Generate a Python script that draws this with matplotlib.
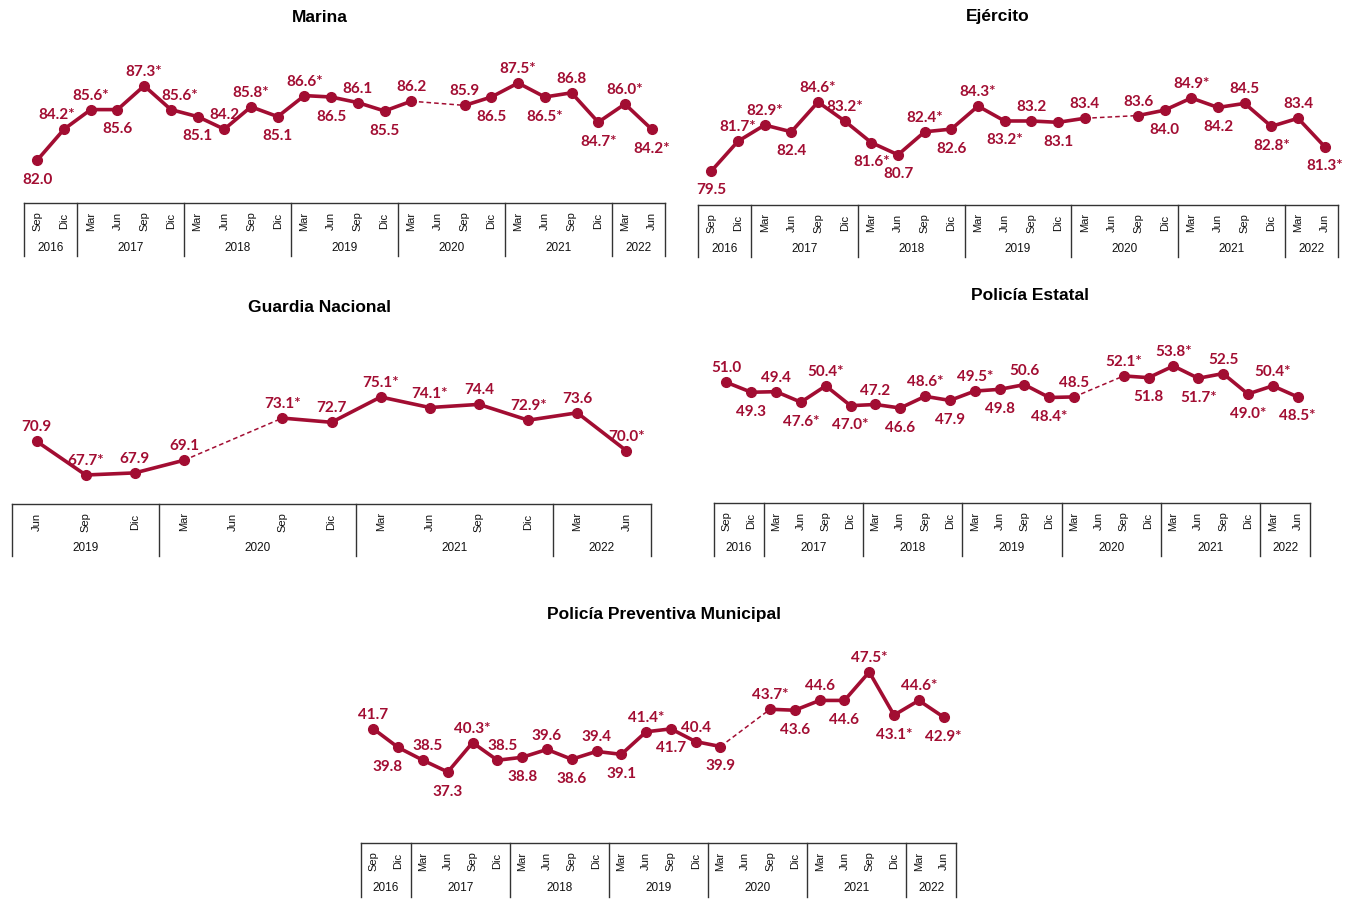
import numpy as np
import matplotlib
matplotlib.use("Agg")
import matplotlib.pyplot as plt

nan = np.nan

# ---------------- data ----------------
months_full = ["Sep", "Dic"] + ["Mar", "Jun", "Sep", "Dic"] * 5 + ["Mar", "Jun"]
years_full = ["2016", "2017", "2018", "2019", "2020", "2021", "2022"]
year_sizes_full = [2, 4, 4, 4, 4, 4, 2]

months_gn = ["Jun", "Sep", "Dic"] + ["Mar", "Jun", "Sep", "Dic"] * 2 + ["Mar", "Jun"]
years_gn = ["2019", "2020", "2021", "2022"]
year_sizes_gn = [3, 4, 4, 2]

marina = [82.0, 84.2, 85.6, 85.6, 87.3, 85.6, 85.1, 84.2, 85.8, 85.1, 86.6, 86.5,
          86.1, 85.5, 86.2, nan, 85.9, 86.5, 87.5, 86.5, 86.8, 84.7, 86.0, 84.2]
marina_sig = [0, 1, 1, 0, 1, 1, 0, 0, 1, 0, 1, 0, 0, 0, 0, 0, 0, 0, 1, 1, 0, 1, 1, 1]

ejercito = [79.5, 81.7, 82.9, 82.4, 84.6, 83.2, 81.6, 80.7, 82.4, 82.6, 84.3, 83.2,
            83.2, 83.1, 83.4, nan, 83.6, 84.0, 84.9, 84.2, 84.5, 82.8, 83.4, 81.3]
ejercito_sig = [0, 1, 1, 0, 1, 1, 1, 0, 1, 0, 1, 1, 0, 0, 0, 0, 0, 0, 1, 0, 0, 1, 0, 1]

guardia = [70.9, 67.7, 67.9, 69.1, nan, 73.1, 72.7, 75.1, 74.1, 74.4, 72.9, 73.6, 70.0]
guardia_sig = [0, 1, 0, 0, 0, 1, 0, 1, 1, 0, 1, 0, 1]

estatal = [51.0, 49.3, 49.4, 47.6, 50.4, 47.0, 47.2, 46.6, 48.6, 47.9, 49.5, 49.8,
           50.6, 48.4, 48.5, nan, 52.1, 51.8, 53.8, 51.7, 52.5, 49.0, 50.4, 48.5]
estatal_sig = [0, 0, 0, 1, 1, 1, 0, 0, 1, 0, 1, 0, 0, 1, 0, 0, 1, 0, 1, 1, 0, 1, 1, 1]

municipal = [41.7, 39.8, 38.5, 37.3, 40.3, 38.5, 38.8, 39.6, 38.6, 39.4, 39.1, 41.4,
             41.7, 40.4, 39.9, nan, 43.7, 43.6, 44.6, 44.6, 47.5, 43.1, 44.6, 42.9]
municipal_sig = [0, 0, 0, 0, 1, 0, 0, 0, 0, 0, 0, 1, 0, 0, 0, 0, 1, 0, 0, 0, 1, 1, 1, 1]

# label placement (a = above, b = below, - = no point)
marina_pos = "baabaabaabababa-abababab"
ejercito_pos = "baabaabbabababa-abababab"
guardia_pos = "aaaa-aaaaaaaa"
estatal_pos = "abababababababa-abababab"
municipal_pos = "ababaababababab-abababab"

# small horizontal nudges of individual labels (points)
marina_dx = {1: -5, 5: 6}
ejercito_dx = {}
guardia_dx = {}
estatal_dx = {}
municipal_dx = {1: -8, 2: 3, 5: 4}

# ---------------- style ----------------
W, H = 1350, 905
RED = "#A20D32"
LABEL_FONT = ["Lato", "DejaVu Sans"]
AX_FONT = ["Liberation Sans", "DejaVu Sans"]

fig = plt.figure(figsize=(W / 100, H / 100), dpi=100)


def add_rect(x0, y0, x1, y1):
    return fig.add_axes([x0 / W, 1 - y1 / H, (x1 - x0) / W, (y1 - y0) / H])


def panel(title, title_xy, values, sig, pos, dx, months, years, year_sizes,
          x0, x1, data_top, tab_top, tab_bot, ref1, ref2):
    n = len(months)
    vals = np.array(values, dtype=float)
    ax = add_rect(x0, data_top, x1, tab_top)
    (v1, p1), (v2, p2) = ref1, ref2
    s = (p1 - p2) / (v2 - v1)
    ymin = v1 - (tab_top - p1) / s
    ymax = v1 + (p1 - data_top) / s
    ax.set_xlim(-0.5, n - 0.5)
    ax.set_ylim(ymin, ymax)
    ax.axis("off")
    x = np.arange(n)
    ax.plot(x, vals, color=RED, lw=2.6, marker="o", ms=7, solid_joinstyle="round",
            zorder=3)
    for i in range(1, n - 1):
        if np.isnan(vals[i]) and not np.isnan(vals[i - 1]):
            j = i + 1
            while j < n and np.isnan(vals[j]):
                j += 1
            if j < n:
                ax.plot([i - 1, j], [vals[i - 1], vals[j]], color=RED, lw=1.1,
                        ls=(0, (3, 2)), zorder=2)
    for i in range(n):
        if np.isnan(vals[i]):
            continue
        txt = f"{vals[i]:.1f}" + ("*" if sig[i] else "")
        off = dx.get(i, 0)
        if pos[i] == "a":
            ax.annotate(txt, (i, vals[i]), xytext=(off, 5), textcoords="offset points",
                        ha="center", va="bottom", color=RED, fontsize=11,
                        fontweight="bold", family=LABEL_FONT, annotation_clip=False)
        else:
            ax.annotate(txt, (i, vals[i]), xytext=(off, -9), textcoords="offset points",
                        ha="center", va="top", color=RED, fontsize=11,
                        fontweight="bold", family=LABEL_FONT, annotation_clip=False)
    fig.text(title_xy[0] / W, 1 - title_xy[1] / H, title, ha="center", va="center",
             fontsize=12.5, fontweight="bold", family=AX_FONT)
    tb = add_rect(x0, tab_top, x1, tab_bot)
    tb.set_xlim(-0.5, n - 0.5)
    tb.set_ylim(0, 1)
    tb.axis("off")
    tb.plot([-0.5, n - 0.5], [1, 1], color="#333333", lw=1.0, clip_on=False)
    for i, m in enumerate(months):
        tb.text(i, 0.66, m, rotation=90, ha="center", va="center", fontsize=8,
                family=AX_FONT, color="#111111")
    b = -0.5
    tb.plot([b, b], [0, 1], color="#333333", lw=1.0, clip_on=False)
    for yr, sz in zip(years, year_sizes):
        tb.text(b + sz / 2, 0.16, yr, ha="center", va="center", fontsize=8.5,
                family=AX_FONT, color="#111111")
        b += sz
        tb.plot([b, b], [0, 1], color="#333333", lw=1.0, clip_on=False)


panel("Marina", (320, 17), marina, marina_sig, marina_pos, marina_dx, months_full,
      years_full, year_sizes_full, 24, 665, 40, 203, 256, (82.0, 160), (87.5, 83))
panel("Ejército", (998, 17), ejercito, ejercito_sig, ejercito_pos, ejercito_dx,
      months_full, years_full, year_sizes_full, 698, 1338, 40, 205, 257,
      (79.5, 171), (84.9, 98))
panel("Guardia Nacional", (320, 307), guardia, guardia_sig, guardia_pos, guardia_dx,
      months_gn, years_gn, year_sizes_gn, 12, 651, 330, 504, 556,
      (67.7, 475), (75.1, 397))
panel("Policía Estatal", (1030, 295), estatal, estatal_sig, estatal_pos, estatal_dx,
      months_full, years_full, year_sizes_full, 714, 1310, 320, 503, 556,
      (46.6, 408), (53.8, 366))
panel("Policía Preventiva Municipal", (664, 614), municipal, municipal_sig,
      municipal_pos, municipal_dx, months_full, years_full, year_sizes_full,
      361, 956, 640, 843, 897, (37.3, 772), (47.5, 672))

fig.savefig("out.png", dpi=100, facecolor="white")
